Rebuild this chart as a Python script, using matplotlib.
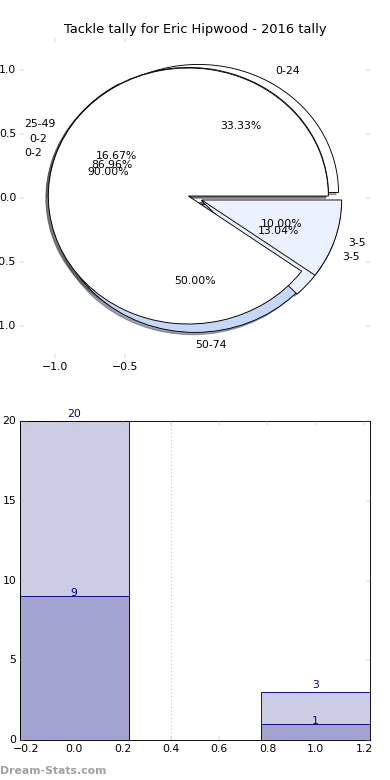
import matplotlib
matplotlib.use("Agg")
import matplotlib.pyplot as plt

plt.style.use('classic')

# ---- data ----
title = "Tackle tally for Eric Hipwood - 2016 tally"
pie1_labels = ['0-24', '25-49', '50-74']
pie1_values = [2, 1, 3]
pie2_labels = ['0-2', '3-5']
pie2_values = [20, 3]
pie3_labels = ['0-2', '3-5']
pie3_values = [9, 1]

bar_positions = [0, 1]
bar_totals = [20, 3]
bar_inner = [9, 1]

pie_xticks = [-1.0, -0.5]
pie_yticks = [-1.0, -0.5, 0.0, 0.5, 1.0]
bar_xticks = [-0.2, 0.0, 0.2, 0.4, 0.6, 0.8, 1.0, 1.2]
bar_yticks = [0, 5, 10, 15, 20]

# ---- style ----
c_white = '#ffffff'
c_light = '#ebf1fe'
c_blue = '#c5d8f9'
tick_gray = '#aaaaaa'

fig = plt.figure(figsize=(6, 12), dpi=65, facecolor='white')

ax1 = fig.add_axes([20/390, 1 - 358/780, 350/390, 320/780])
wp = dict(edgecolor='black', linewidth=1.0)
ax1.pie(pie1_values, labels=pie1_labels, autopct='%1.2f%%',
        explode=[0.05]*len(pie1_values), shadow=True,
        colors=[c_white, c_light, c_blue], wedgeprops=wp)
ax1.pie(pie2_values, labels=pie2_labels, autopct='%1.2f%%',
        explode=[0.05]*len(pie2_values), shadow=True,
        colors=[c_white, c_light], wedgeprops=wp)
ax1.pie(pie3_values, labels=pie3_labels, autopct='%1.2f%%',
        explode=[0.05]*len(pie3_values), shadow=True,
        colors=[c_white, c_light], wedgeprops=wp)
ax1.set_aspect('auto')
ax1.set_xlim(-1.25, 1.25)
ax1.set_ylim(-1.25, 1.25)
ax1.set_xticks(pie_xticks)
ax1.set_yticks(pie_yticks)
ax1.set_frame_on(False)
ax1.tick_params(direction='in', top=True, right=True, bottom=True, left=True,
                color=tick_gray, labelcolor='black', length=4)
ax1.set_title(title)

ax2 = fig.add_axes([20/390, 40/780, 350/390, 319/780])
ax2.bar(bar_positions, bar_totals, width=0.45, align='center',
        color='#ccccE4', edgecolor='navy', linewidth=1.0)
ax2.bar(bar_positions, bar_inner, width=0.45, align='center',
        color='#a3a3d1', edgecolor='navy', linewidth=1.0)
for x, h in zip(bar_positions, bar_totals):
    ax2.text(x, h + 0.25, str(h), ha='center', va='baseline', color='navy',
             clip_on=False)
for x, h in zip(bar_positions, bar_inner):
    ax2.text(x, h, str(h), ha='center', va='baseline', color='navy')
ax2.axvline(0.4, color='#bbbbbb', linestyle=':', linewidth=1.2)
ax2.set_xlim(-0.225, 1.225)
ax2.set_ylim(0, 20)
ax2.set_xticks(bar_xticks)
ax2.set_yticks(bar_yticks)
ax2.tick_params(direction='in', top=True, right=True, color=tick_gray,
                labelcolor='black', length=4)

fig.text(0.0, 4/780, 'Dream-Stats.com', color='#a0a0a0', fontsize=12,
         fontweight='bold', ha='left', va='bottom')

fig.savefig('out.png', dpi=65, facecolor='white')
